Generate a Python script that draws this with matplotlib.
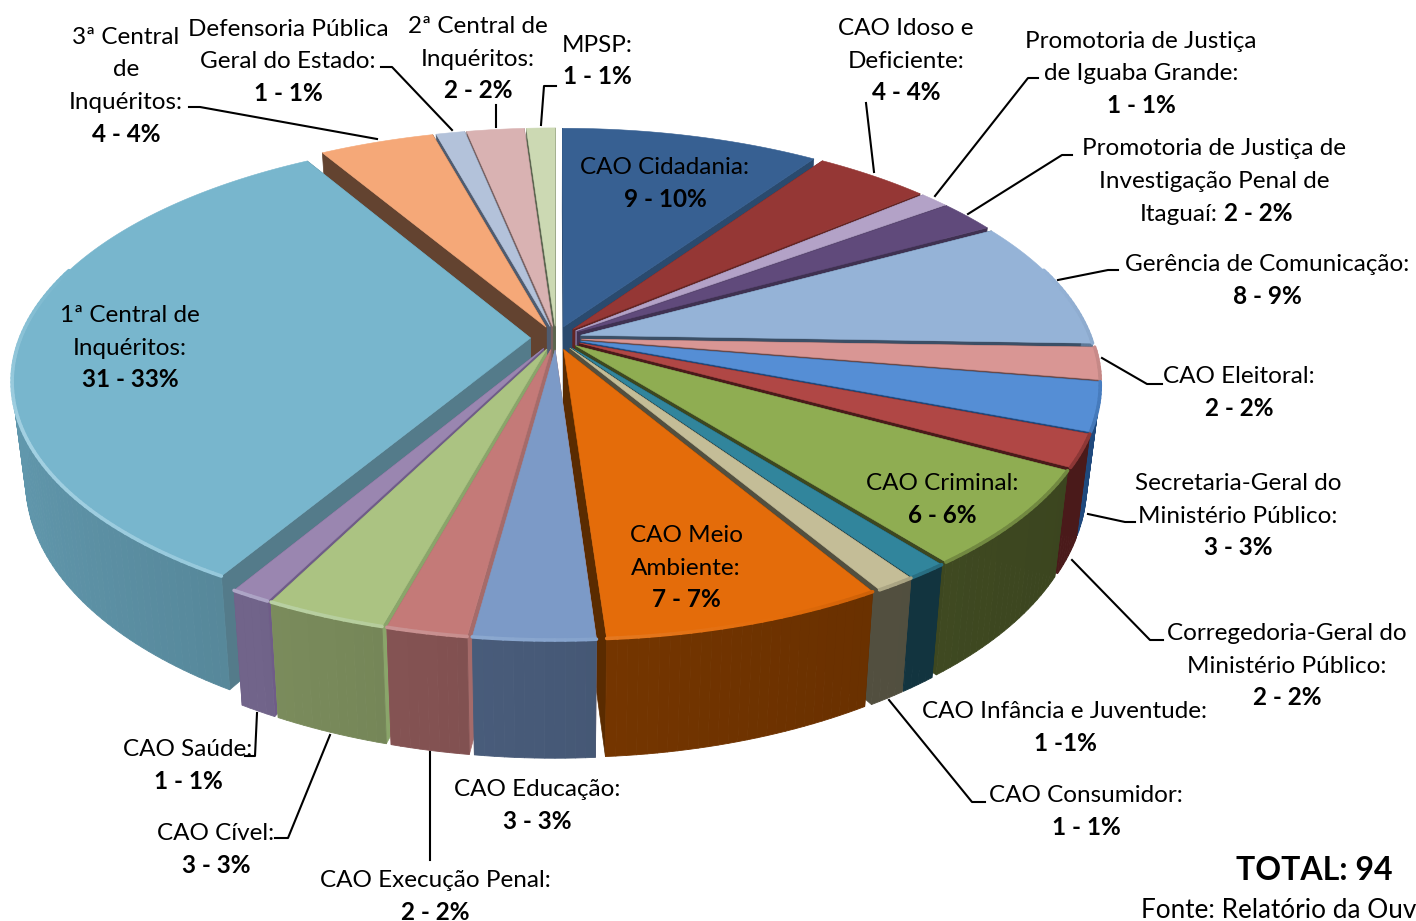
#!/bin/env python3

import numpy as np
import matplotlib
matplotlib.use('Agg')
import matplotlib.pyplot as plt
from matplotlib.colors import to_rgb
from matplotlib.patches import Polygon
from matplotlib.collections import PolyCollection, LineCollection

# clockwise from 12 o'clock
values = [9, 4, 1, 2, 8, 2, 3, 2, 6, 1, 1, 7, 3, 2, 3, 1, 31, 4, 1, 2, 1]
top_colors = ['#376092', '#953735', '#b3a2c7', '#604a7b', '#95b3d7', '#d99694', '#558ed5',
              '#b04745', '#8fad52', '#31859c', '#c4bd97', '#e46c0a', '#7c9ac7', '#c47a78',
              '#abc382', '#9a86b0', '#78b6cd', '#f5a878', '#b3c2da', '#d9b2b2', '#ccd9b3']
wall_colors = ['#254061', '#632523', '#7a6a90', '#3f3151', '#5f7a99', '#7a5453', '#1f497d',
               '#4a1a1a', '#3d4720', '#12343f', '#524f3f', '#6f3300', '#475a78', '#835252',
               '#78895a', '#71648a', '#6198ad', '#8a5a3c', '#6d7a90', '#8a6e6e', '#8b9a7a']
side_colors = ['#2a4a6e', '#632523', '#7a6a90', '#3f3151', '#3b4f66', '#6b4a49', '#1f497d',
               '#4a1a1a', '#3d4720', '#12343f', '#524f3f', '#5a2b00', '#a56b6a', '#a56b6a',
               '#8aa56a', '#6f5c88', '#547b8a', '#634330', '#4f5c70', '#7a6262', '#5c6650']

labels = [
    (['3ª Central', 'de', 'Inquéritos:'], '4 - 4%', 126, 36),
    (['Defensoria Pública', 'Geral do Estado:'], '1 - 1%', 288, 28),
    (['2ª Central de', 'Inquéritos:'], '2 - 2%', 478, 25),
    (['MPSP:'], '1 - 1%', 597, 44),
    (['CAO Idoso e', 'Deficiente:'], '4 - 4%', 906, 27),
    (['Promotoria de Justiça', 'de Iguaba Grande:'], '1 - 1%', 1141, 40),
    (['Gerência de Comunicação:'], '8 - 9%', 1267, 263),
    (['CAO Eleitoral:'], '2 - 2%', 1239, 375),
    (['Secretaria-Geral do', 'Ministério Público:'], '3 - 3%', 1238, 482),
    (['Corregedoria-Geral do', 'Ministério Público:'], '2 - 2%', 1287, 632),
    (['CAO Infância e Juventude:'], '1 -1%', 1065, 710),
    (['CAO Consumidor:'], '1 - 1%', 1086, 794),
    (['CAO Educação:'], '3 - 3%', 537, 788),
    (['CAO Execução Penal:'], '2 - 2%', 435, 879),
    (['CAO Cível:'], '3 - 3%', 216, 832),
    (['CAO Saúde:'], '1 - 1%', 188, 748),
    (['1ª Central de', 'Inquéritos:'], '31 - 33%', 130, 314),
    (['CAO Meio', 'Ambiente:'], '7 - 7%', 686, 534),
    (['CAO Criminal:'], '6 - 6%', 942, 482),
    (['CAO Cidadania:'], '9 - 10%', 665, 166),
]
leaders = [
    [(189, 107), (200, 107), (377, 139)],
    [(381, 67), (392, 67), (452, 130)],
    [(496, 105), (496, 127)],
    [(556, 86), (544, 86), (541, 125)],
    [(866, 103), (874, 172)],
    [(1038, 78), (1028, 78), (935, 196)],
    [(1072, 155), (1062, 155), (968, 214)],
    [(1118, 270), (1108, 270), (1058, 280)],
    [(1102, 358), (1147, 384), (1162, 384)],
    [(1088, 514), (1125, 522), (1135, 522)],
    [(1072, 560), (1150, 640), (1163, 640)],
    [(889, 700), (972, 802), (985, 802)],
    [(430, 752), (430, 860)],
    [(330, 735), (288, 838), (275, 838)],
    [(257, 713), (255, 756), (245, 756)],
]

CX, CY = 556, 338
RX, RY = 510, 236
DIST = 5.85
DEPTH = 97
EXPLODE = 0.05
FONT = 'Lato'
SIZE = 17.5
BASE = 8  # centre of a line of text to its baseline


def project(x, y, z=0.0):
    # x right, y away from viewer, z=0 is the top face and z=1 the bottom
    s = DIST / (DIST + y)
    px = RX * x * s * (1 - 0.025 * z)
    py = -RY * y * s + DEPTH * s * z
    return CX + px, CY + py


def mix(color, other, t):
    a, b = np.array(to_rgb(color)), np.array(to_rgb(other))
    return tuple(np.clip(a + (b - a) * t, 0, 1))


def shade(color, f):
    return tuple(np.clip(np.array(to_rgb(color)) * f, 0, 1))


fig = plt.figure(figsize=(14.16, 9.21), dpi=100)
ax = fig.add_axes([0, 0, 1, 1])
ax.set_xlim(0, 1416)
ax.set_ylim(921, 0)
ax.axis('off')

total = sum(values)
edges = np.cumsum([0] + values) / total * 2 * np.pi
mids = (edges[:-1] + edges[1:]) / 2

# far wedges first, the near ones paint over them
for i in sorted(range(len(values)), key=lambda k: -np.cos(mids[k])):
    ox, oy = EXPLODE * np.sin(mids[i]), EXPLODE * np.cos(mids[i])
    t = np.linspace(edges[i], edges[i + 1], max(3, int(np.degrees(edges[i + 1] - edges[i])) + 2))
    xs, ys = ox + np.sin(t), oy + np.cos(t)

    # cut faces
    for a in (t[0], t[-1]):
        ex, ey = ox + np.sin(a), oy + np.cos(a)
        quad = [project(ox, oy), project(ex, ey), project(ex, ey, 1), project(ox, oy, 1)]
        ax.add_patch(Polygon(quad, closed=True, fc=side_colors[i], ec=side_colors[i], lw=0.5))

    # round outer wall, lit from the left
    quads, cols = [], []
    for j in range(len(t) - 1):
        if np.cos(t[j]) < 0.05 or np.cos(t[j + 1]) < 0.05:
            quads.append([project(xs[j], ys[j]), project(xs[j + 1], ys[j + 1]),
                          project(xs[j + 1], ys[j + 1], 1), project(xs[j], ys[j], 1)])
            cols.append(shade(wall_colors[i], 1 + 0.22 * (np.sin(mids[i]) - np.sin(t[j]))))
    if quads:
        ax.add_collection(PolyCollection(quads, facecolors=cols, edgecolors=cols, linewidths=0.6))

    # top face
    rim = [project(a, b) for a, b in zip(xs, ys)]
    ax.add_patch(Polygon([project(ox, oy)] + rim, closed=True, fc=top_colors[i], ec=top_colors[i], lw=0.4))

    # bevel along the edge, fading out towards the back of the pie
    segs, seg_cols = [], []
    for j in range(len(t) - 1):
        fade = np.clip((0.3 - np.cos(t[j])) / 0.7, 0, 1)
        if fade <= 0:
            continue
        side = np.sin(t[j])
        c = mix(top_colors[i], '#dff6ff', 0.45 * fade * np.clip((0.35 - side) / 1.35, 0, 1))
        c = mix(c, wall_colors[i], 0.35 * fade * np.clip((side - 0.35) / 0.3, 0, 1))
        segs.append([rim[j], rim[j + 1]])
        seg_cols.append(c)
    if segs:
        ax.add_collection(LineCollection(segs, colors=seg_cols, linewidths=2.6, capstyle='round'))

for line in leaders:
    ax.plot(*zip(*line), color='black', lw=1.5, zorder=3)

for names, value, x, y in labels:
    for n, name in enumerate(names):
        ax.text(x, y + BASE + n * 32.5, name, ha='center', va='baseline', family=FONT, fontsize=SIZE,
                color='black', zorder=4)
    ax.text(x, y + BASE + len(names) * 32.5, value, ha='center', va='baseline', family=FONT, fontsize=SIZE,
            fontweight='bold', color='black', zorder=4)

# this one has its value on the same line as the name
ax.text(1214, 147 + BASE, 'Promotoria de Justiça de', ha='center', va='baseline', family=FONT, fontsize=SIZE, zorder=4)
ax.text(1214, 180 + BASE, 'Investigação Penal de', ha='center', va='baseline', family=FONT, fontsize=SIZE, zorder=4)
ax.text(1218, 213 + BASE, 'Itaguaí:', ha='right', va='baseline', family=FONT, fontsize=SIZE, zorder=4)
ax.text(1224, 213 + BASE, '2 - 2%', ha='left', va='baseline', family=FONT, fontsize=SIZE, fontweight='bold', zorder=4)

ax.text(1314, 880, 'TOTAL: 94', ha='center', va='baseline', family=FONT, fontsize=23, fontweight='bold', zorder=4)
ax.text(1141, 918, 'Fonte: Relatório da Ouv', ha='left', va='baseline', family=FONT, fontsize=18.8, zorder=4)

plt.savefig('out.png', dpi=100)
